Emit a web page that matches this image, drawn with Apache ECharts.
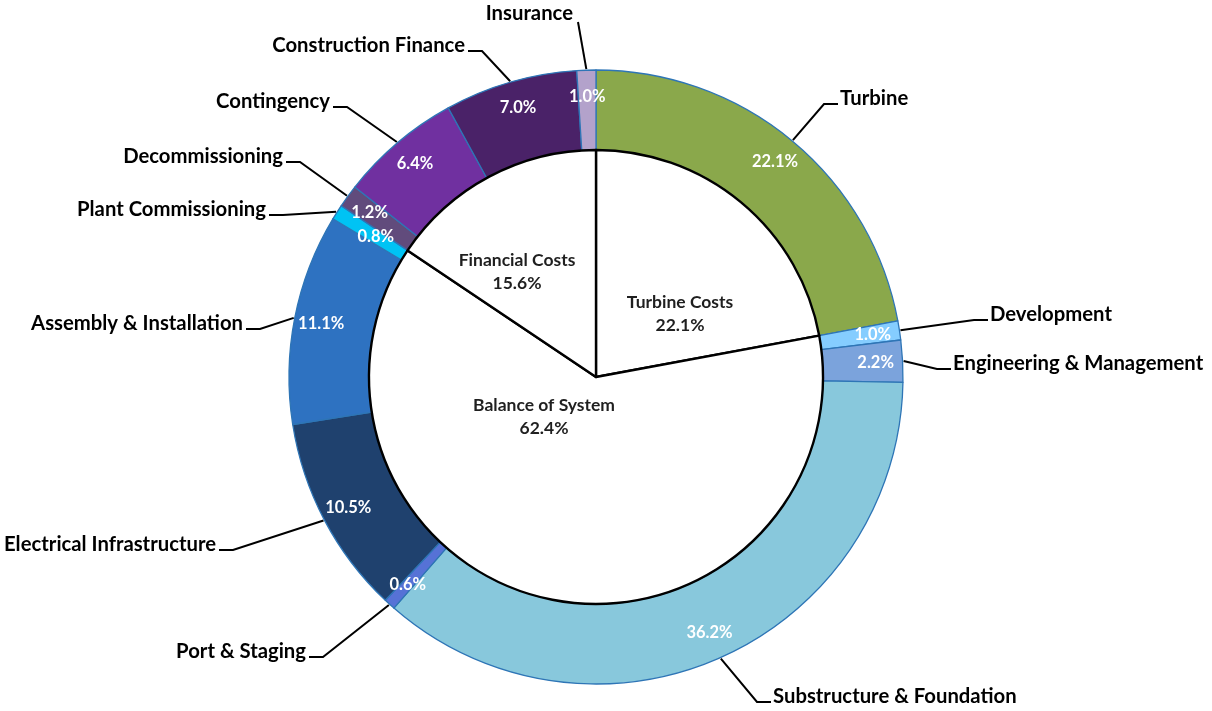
<!DOCTYPE html>
<html>
<head>
<meta charset="utf-8">
<title>Cost breakdown</title>
<script src="https://cdn.jsdelivr.net/npm/echarts@6/dist/echarts.min.js"></script>
<style>
html, body { margin: 0; padding: 0; background: #fff; }
#main { width: 1212px; height: 711px; }
</style>
</head>
<body>
<div id="main"></div>
<script>
// cost components, clockwise from 12 o'clock
var items = ['Turbine', 'Development', 'Engineering & Management', 'Substructure & Foundation',
  'Port & Staging', 'Electrical Infrastructure', 'Assembly & Installation', 'Plant Commissioning',
  'Decommissioning', 'Contingency', 'Construction Finance', 'Insurance'];
var shares = [22.1, 1.0, 2.2, 36.2, 0.6, 10.5, 11.1, 0.8, 1.2, 6.4, 7.0, 1.0];

// the three groups in the middle
var groups = ['Turbine Costs', 'Balance of System', 'Financial Costs'];
var groupShares = [22.1, 62.4, 15.6];

var colors = ['#8aa84b', '#85cdff', '#7ba3dc', '#88c8dc', '#5672d6', '#1f416e',
  '#2e72c1', '#00c3f4', '#614b7c', '#7030a0', '#4a2268', '#b3a2cb'];

// layout
var cx = 596, cy = 377, r0 = 227, r1 = 307;
var FONT = 'Lato';

// where the outer names sit: [align, x, y]
var nameSpots = [
  ['left', 840, 98], ['left', 990, 314], ['left', 953, 363], ['left', 773, 696],
  ['right', 306, 651], ['right', 216, 544], ['right', 243, 323], ['right', 266, 209],
  ['right', 283, 156], ['right', 330, 101], ['right', 465, 45], ['right', 573, 13]
];
var groupSpots = [[680, 314], [544, 417], [517, 272]];

var total = shares.reduce(function (a, b) { return a + b; }, 0);
function midAngle(i) {
  var before = 0;
  for (var k = 0; k < i; k++) before += shares[k];
  return (before + shares[i] / 2) / total * Math.PI * 2;
}
function polar(a, r) { return [cx + r * Math.sin(a), cy - r * Math.cos(a)]; }

var ringData = items.map(function (n, i) {
  return { name: n, value: shares[i], itemStyle: { color: colors[i] } };
});

var chart = echarts.init(document.getElementById('main'));
chart.setOption({
  backgroundColor: '#fff',
  animation: false,
  series: [
    {
      // coloured ring with the percentages
      type: 'pie',
      center: [cx, cy],
      radius: [r0, r1],
      startAngle: 90,
      silent: true,
      avoidLabelOverlap: false,
      itemStyle: { borderColor: '#2e75b6', borderWidth: 1.3 },
      label: {
        position: 'inside',
        color: '#fff',
        fontFamily: FONT,
        fontWeight: 'bold',
        fontSize: 16.5,
        formatter: function (p) { return p.value.toFixed(1) + '%'; }
      },
      labelLayout: function (p) {
        var rr = p.dataIndex === 7 ? 261 : 280;
        var pt = polar(midAngle(p.dataIndex), rr);
        return { x: pt[0], y: pt[1], align: 'center', verticalAlign: 'middle' };
      },
      data: ringData
    },
    {
      // same ring again, see-through, only for the names and leader lines
      type: 'pie',
      center: [cx, cy],
      radius: [r0, r1],
      startAngle: 90,
      silent: true,
      avoidLabelOverlap: false,
      itemStyle: { color: 'rgba(0,0,0,0)', borderWidth: 0 },
      label: {
        position: 'outside',
        color: '#000',
        fontFamily: FONT,
        fontWeight: 'bold',
        fontSize: 20.3,
        formatter: '{b}'
      },
      labelLine: { show: true, lineStyle: { color: '#000', width: 2 } },
      labelLayout: function (p) {
        var s = nameSpots[p.dataIndex];
        var start = polar(midAngle(p.dataIndex), r1 + 1);
        var pts;
        if (p.dataIndex === 11) {
          pts = [start, [578, 22], [578, 22]];
        } else {
          var ly = s[2] + 6;
          var end = s[0] === 'left' ? [s[1] - 2, ly] : [s[1] + 3, ly];
          var elbow = [end[0] + (s[0] === 'left' ? -14 : 14), ly];
          pts = [start, elbow, end];
        }
        return { x: s[1], y: s[2], align: s[0], verticalAlign: 'middle', labelLinePoints: pts };
      },
      data: items.map(function (n, i) { return { name: n, value: shares[i] }; })
    },
    {
      // white inner pie with the group totals
      type: 'pie',
      center: [cx, cy],
      radius: [0, r0],
      startAngle: 90,
      silent: true,
      avoidLabelOverlap: false,
      itemStyle: { color: '#fff', borderColor: '#000', borderWidth: 2.4 },
      label: {
        position: 'inside',
        color: '#1f1f1f',
        fontFamily: FONT,
        fontWeight: 'bold',
        fontSize: 17.5,
        lineHeight: 23,
        formatter: function (p) { return p.name + '\n' + p.value.toFixed(1) + '%'; }
      },
      labelLayout: function (p) {
        var s = groupSpots[p.dataIndex];
        return { x: s[0], y: s[1], align: 'center', verticalAlign: 'middle' };
      },
      data: groups.map(function (n, i) { return { name: n, value: groupShares[i] }; })
    }
  ]
});
</script>
</body>
</html>
